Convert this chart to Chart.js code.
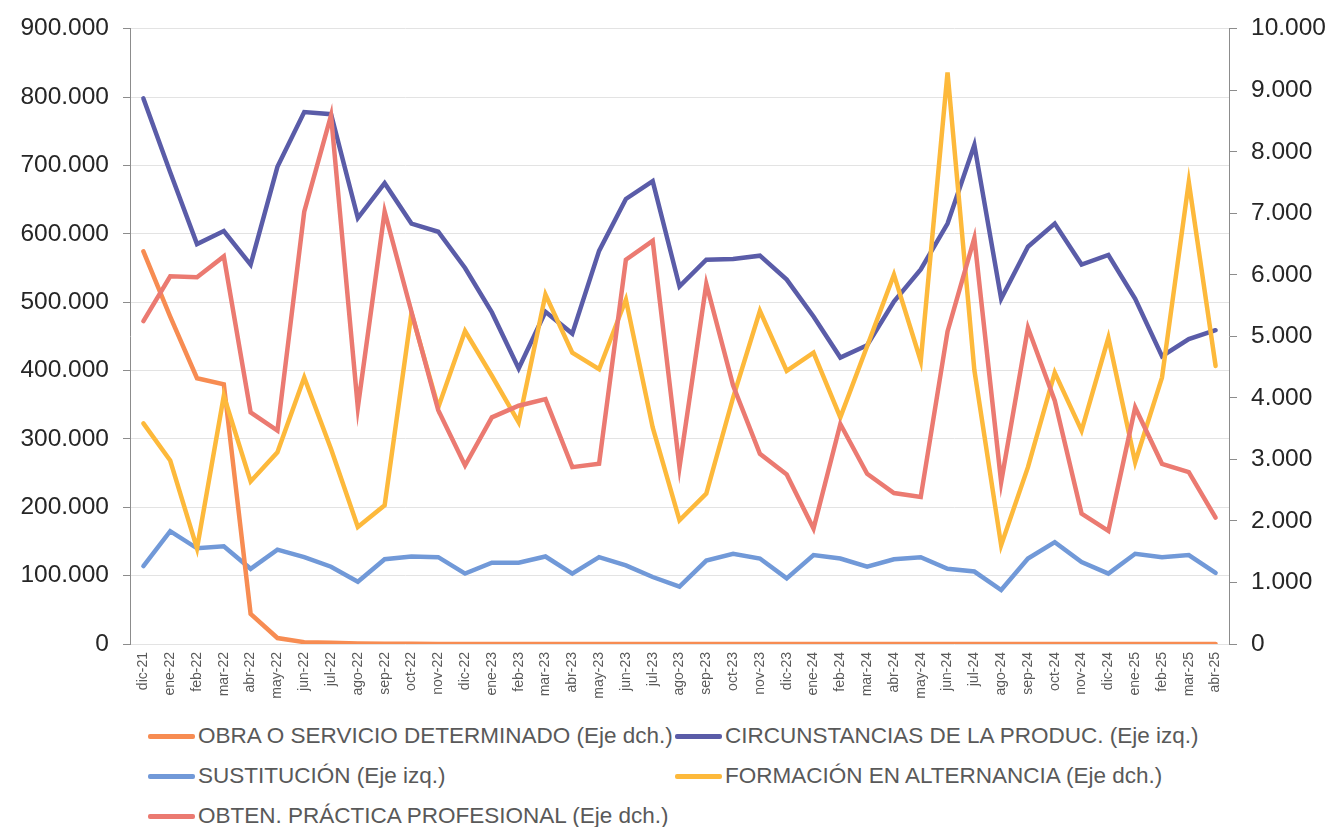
<!DOCTYPE html>
<html>
<head>
<meta charset="utf-8">
<script src="https://cdn.jsdelivr.net/npm/chart.js@4.4.1/dist/chart.umd.min.js"></script>
<style>
  html, body { margin: 0; padding: 0; background: #ffffff; }
  #wrap { position: relative; width: 1328px; height: 827px; overflow: hidden; }
  #box { position: absolute; left: 0; top: 0; width: 1328px; height: 712px; }
  .leg { position: absolute; height: 30px; display: flex; align-items: center; white-space: nowrap;
         font-family: "Liberation Sans", Arial, sans-serif; font-size: 22.5px; color: #595959; }
  .leg .mk { width: 47px; height: 5px; border-radius: 2px; margin-right: 3px; flex: none; }
  .leg .tx { display: inline-block; }
</style>
</head>
<body>
<div id="wrap">
  <div id="box"><canvas id="c"></canvas></div>
  <div id="legend"></div>
</div>
<script>
const categories = ["dic-21","ene-22","feb-22","mar-22","abr-22","may-22","jun-22","jul-22","ago-22","sep-22","oct-22","nov-22",
  "dic-22","ene-23","feb-23","mar-23","abr-23","may-23","jun-23","jul-23","ago-23","sep-23","oct-23","nov-23",
  "dic-23","ene-24","feb-24","mar-24","abr-24","may-24","jun-24","jul-24","ago-24","sep-24","oct-24","nov-24",
  "dic-24","ene-25","feb-25","mar-25","abr-25"];

// Eje dch.
const obraServicio = [6380,5320,4320,4220,490,97,30,20,10,5,3,2,
  1,1,1,1,1,0,0,0,0,0,0,0,
  0,0,0,0,0,0,0,0,0,0,0,0,
  0,0,0,0,0];
// Eje izq.
const circunstancias = [798000,690000,585000,604000,555000,698000,778000,775000,623000,674000,615000,603000,
  550000,485000,403000,486000,454000,575000,651000,677000,523000,562000,563000,568000,
  533000,479000,419000,437000,501000,548000,615000,730000,505000,581000,615000,555000,
  569000,505000,421000,446000,459000];
// Eje izq.
const sustitucion = [114000,165000,140000,143000,110000,138000,127000,113000,91000,124000,128000,127000,
  103000,119000,119000,128000,103000,127000,115000,98000,84000,122000,132000,125000,
  96000,130000,125000,113000,124000,127000,110000,106000,79000,125000,149000,120000,
  103000,132000,127000,130000,104000];
// Eje dch.
const formacion = [3585,2982,1553,4034,2642,3116,4330,3170,1903,2254,5381,3845,
  5087,4360,3602,5679,4735,4466,5598,3521,2010,2443,4006,5413,
  4438,4735,3683,4840,6003,4600,9290,4450,1605,2874,4411,3467,
  4977,2954,4330,7508,4519];
// Eje dch.
const practica = [5248,5976,5959,6299,3764,3467,7027,8592,3845,7027,5400,3800,
  2901,3683,3872,3980,2874,2928,6245,6553,2874,5851,4200,3090,
  2755,1877,3575,2767,2453,2388,5080,6595,2631,5139,3953,2119,
  1838,3845,2928,2793,2055];

const seriesNames = ["OBRA O SERVICIO DETERMINADO (Eje dch.)","CIRCUNSTANCIAS DE LA PRODUC. (Eje izq.)",
  "SUSTITUCIÓN (Eje izq.)","FORMACIÓN EN ALTERNANCIA (Eje dch.)","OBTEN. PRÁCTICA PROFESIONAL (Eje dch.)"];
const leftTicks = [0,100000,200000,300000,400000,500000,600000,700000,800000,900000];
const rightTicks = [0,1000,2000,3000,4000,5000,6000,7000,8000,9000,10000];

const colors = ["#F78C52","#5A5CA8","#7199D8","#FDB93B","#EB7A71"];

function fmt(v){ return String(Math.round(v)).replace(/\B(?=(\d{3})+(?!\d))/g, "."); }

function ds(label, data, color, axis, order){
  return { label, data, borderColor: color, backgroundColor: color, yAxisID: axis, order,
    borderWidth: 4.5, pointRadius: 0, pointHoverRadius: 0, tension: 0, fill: false,
    borderCapStyle: "round", borderJoinStyle: "miter" };
}

const tickFont = { family: "'Liberation Sans', Arial, sans-serif", size: 24.5 };

new Chart(document.getElementById("c"), {
  type: "line",
  data: {
    labels: categories,
    datasets: [
      ds(seriesNames[0], obraServicio, colors[0], "yR", 3),
      ds(seriesNames[1], circunstancias, colors[1], "yL", 5),
      ds(seriesNames[2], sustitucion, colors[2], "yL", 4),
      ds(seriesNames[3], formacion, colors[3], "yR", 2),
      ds(seriesNames[4], practica, colors[4], "yR", 1)
    ]
  },
  options: {
    responsive: true, maintainAspectRatio: false, animation: false,
    layout: { padding: { top: 26, left: 0, right: 0, bottom: 0 } },
    plugins: { legend: { display: false }, tooltip: { enabled: false } },
    scales: {
      x: {
        offset: true,
        grid: { display: false, drawTicks: false },
        border: { display: false },
        ticks: { minRotation: 90, maxRotation: 90, autoSkip: false, padding: 8,
                 color: "#595959", font: { family: "'Liberation Sans', Arial, sans-serif", size: 14 } },
        afterFit: s => { s.height = 68; }
      },
      yL: {
        position: "left", min: 0, max: 900000,
        afterBuildTicks: s => { s.ticks = leftTicks.map(v => ({ value: v })); },
        grid: { color: "#e3e3e3", lineWidth: 1, tickColor: "#8c8c8c", tickLength: 7 },
        border: { display: true, color: "#8c8c8c", width: 1 },
        ticks: { color: "#262626", font: tickFont, padding: 14, callback: v => fmt(v) },
        afterFit: s => { s.width = 130; }
      },
      yR: {
        position: "right", min: 0, max: 10000,
        afterBuildTicks: s => { s.ticks = rightTicks.map(v => ({ value: v })); },
        grid: { drawOnChartArea: false, tickColor: "#8c8c8c", tickLength: 8 },
        border: { display: true, color: "#8c8c8c", width: 1 },
        ticks: { color: "#262626", font: tickFont, padding: 14, callback: v => fmt(v) },
        afterFit: s => { s.width = 99; }
      }
    }
  }
});

// Legend (two columns, as in the reference)
const legendPos = [[148,721],[675,721],[148,761],[675,761],[148,801]];
const legEl = document.getElementById("legend");
seriesNames.forEach((name, i) => {
  const d = document.createElement("div");
  d.className = "leg";
  d.style.left = legendPos[i][0] + "px";
  d.style.top = legendPos[i][1] + "px";
  const mk = document.createElement("span");
  mk.className = "mk"; mk.style.background = colors[i];
  const tx = document.createElement("span");
  tx.className = "tx"; tx.textContent = name;
  d.appendChild(mk); d.appendChild(tx);
  legEl.appendChild(d);
});
</script>
</body>
</html>
